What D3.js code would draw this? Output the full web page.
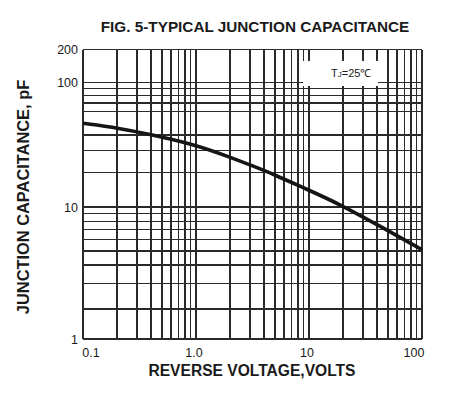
<!DOCTYPE html>
<html>
<head>
<meta charset="utf-8">
<script src="https://cdn.jsdelivr.net/npm/d3@7"></script>
<style>
  body { margin: 0; background: #fff; }
  text { font-family: "Liberation Sans", Arial, sans-serif; fill: #1a1a1a; }
</style>
</head>
<body>
<svg width="456" height="395"></svg>
<script>
// curve: reverse voltage (V) vs capacitance (pF)
var voltage = [0.1, 0.2, 0.5, 1.0, 2.0, 3.2, 4.8, 9.5, 18, 46, 100];
var capacitance = [49.1, 45.5, 38.7, 33.2, 26.6, 22.5, 19.4, 14.3, 10.8, 7.15, 5.1];

var xTicks = [0.1, 1, 10, 100];
var xTickLabels = ["0.1", "1.0", "10", "100"];
var yTicks = [1, 10, 100, 200];
var yTickLabels = ["1", "10", "100", "200"];

// grid lines as drawn on the sheet (no 50 line in the original)
var xGrid = [];
[0.1, 1, 10].forEach(function(d){
  for (var i = 1; i <= 9; i++) xGrid.push(d * i);
});
xGrid.push(100);
var yGrid = [1, 2, 3, 4, 5, 6, 7, 8, 9, 10, 20, 30, 40, 60, 70, 80, 90, 100, 200];

var svg = d3.select("svg");

var x = d3.scaleLog().domain([0.1, 100]).range([83, 422]);
// the printed log paper is a bit uneven, so the y scale is piecewise
var y = d3.scaleLog()
  .domain([1, 2, 5, 10, 20, 40, 100, 200])
  .range([339, 309, 251, 207, 172.5, 135, 82.5, 49.5]);

var grid = svg.append("g")
  .attr("stroke", "#2a2a2a")
  .attr("stroke-width", 1.3)
  .attr("shape-rendering", "crispEdges");

grid.selectAll(".vx")
  .data(xGrid)
  .enter()
  .append("line")
  .attr("x1", function(d){ return x(d); })
  .attr("x2", function(d){ return x(d); })
  .attr("y1", y(200))
  .attr("y2", y(1));

grid.selectAll(".hy")
  .data(yGrid)
  .enter()
  .append("line")
  .attr("y1", function(d){ return y(d); })
  .attr("y2", function(d){ return y(d); })
  .attr("x1", x(0.1))
  .attr("x2", x(100));

// box behind the temperature note
svg.append("rect")
  .attr("x", 303)
  .attr("y", 61)
  .attr("width", 75)
  .attr("height", 25)
  .attr("fill", "#fff");

var note = svg.append("text")
  .attr("x", 331)
  .attr("y", 77)
  .attr("font-size", 11);
note.append("tspan").text("T");
note.append("tspan").attr("font-size", 8).text("J");
note.append("tspan").text("=25℃");

var pts = voltage.map(function(v, i){ return [v, capacitance[i]]; });

var line = d3.line()
  .x(function(d){ return x(d[0]); })
  .y(function(d){ return y(d[1]); })
  .curve(d3.curveBasis);

svg.append("path")
  .datum(pts)
  .attr("d", line)
  .attr("fill", "none")
  .attr("stroke", "#151515")
  .attr("stroke-width", 3.6);

// tick labels
svg.selectAll(".ylab")
  .data(yTicks)
  .enter()
  .append("text")
  .attr("x", 78)
  .attr("y", function(d){ return y(d) + 4.5; })
  .attr("text-anchor", "end")
  .attr("font-size", 12.5)
  .text(function(d, i){ return yTickLabels[i]; });

svg.selectAll(".xlab")
  .data(xTicks)
  .enter()
  .append("text")
  .attr("x", function(d, i){
    if (i == 0) return x(d) + 8;
    if (i == xTicks.length - 1) return x(d) - 8;
    return x(d) - 2;
  })
  .attr("y", 357)
  .attr("text-anchor", "middle")
  .attr("font-size", 12.5)
  .text(function(d, i){ return xTickLabels[i]; });

// titles
svg.append("text")
  .attr("x", 255)
  .attr("y", 32)
  .attr("text-anchor", "middle")
  .attr("font-size", 15.3)
  .attr("font-weight", "bold")
  .text("FIG. 5-TYPICAL JUNCTION CAPACITANCE");

svg.append("text")
  .attr("x", 252)
  .attr("y", 376)
  .attr("text-anchor", "middle")
  .attr("font-size", 15.6)
  .attr("font-weight", "bold")
  .text("REVERSE VOLTAGE,VOLTS");

svg.append("text")
  .attr("transform", "translate(29,197) rotate(-90)")
  .attr("text-anchor", "middle")
  .attr("font-size", 16.4)
  .attr("font-weight", "bold")
  .text("JUNCTION CAPACITANCE, pF");
</script>
</body>
</html>
